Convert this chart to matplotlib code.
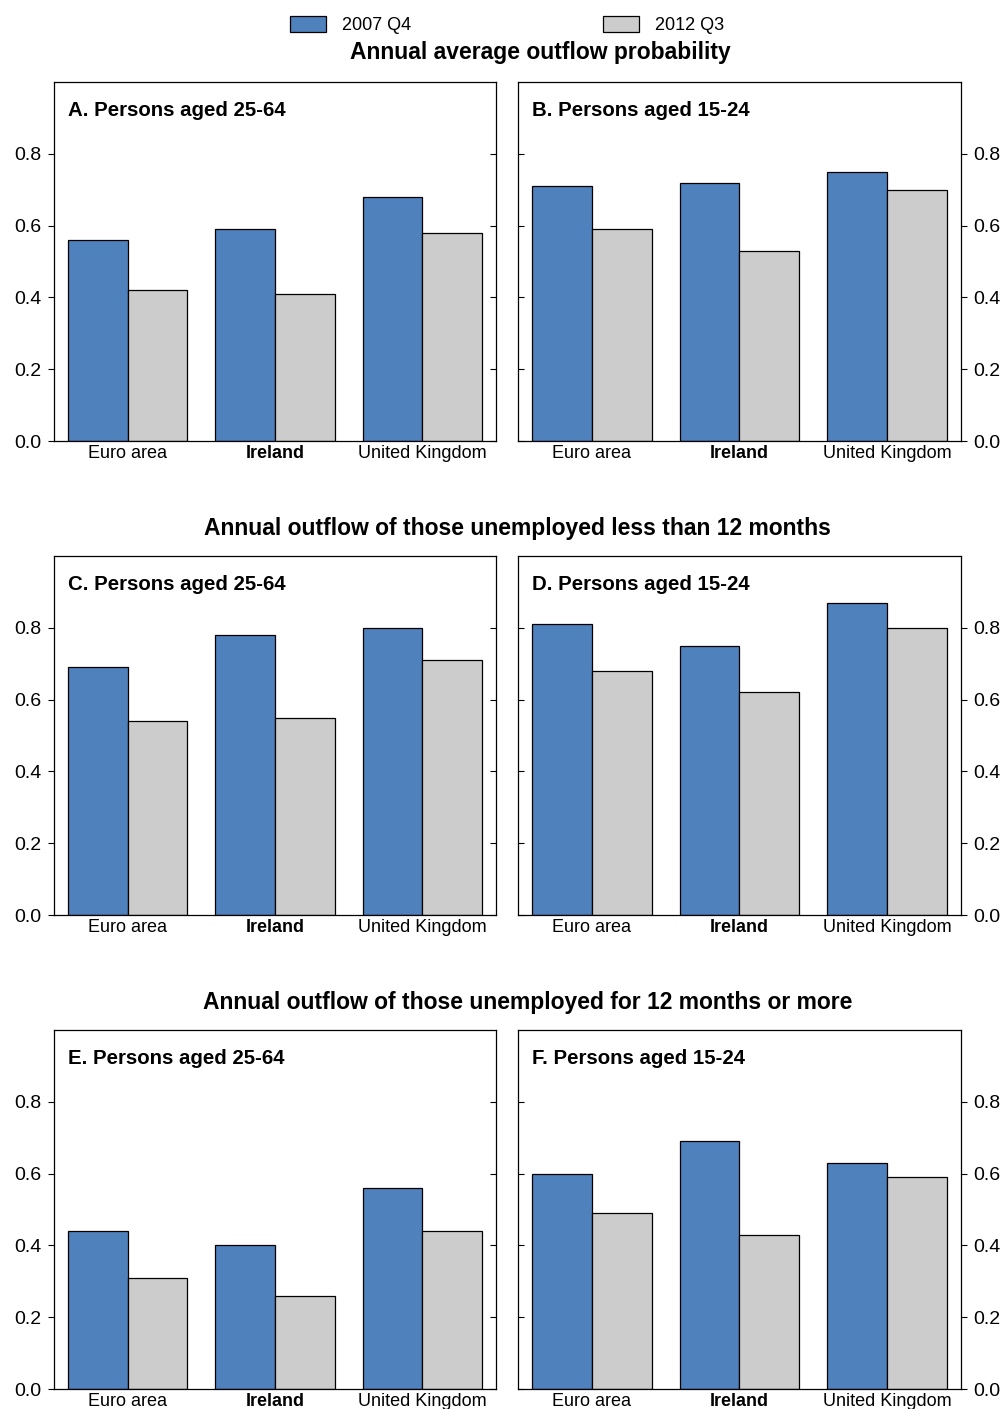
import numpy as np
import matplotlib
matplotlib.use("Agg")
import matplotlib.pyplot as plt
from matplotlib.patches import Patch

plt.rcParams["font.family"] = ["Liberation Sans", "DejaVu Sans"]

paises = ["Euro area", "Ireland", "United Kingdom"]
series = ["2007 Q4", "2012 Q3"]

titulos_linha = [
    "Annual average outflow probability",
    "Annual outflow of those unemployed less than 12 months",
    "Annual outflow of those unemployed for 12 months or more",
]
titulos_painel = [
    "A. Persons aged 25-64", "B. Persons aged 15-24",
    "C. Persons aged 25-64", "D. Persons aged 15-24",
    "E. Persons aged 25-64", "F. Persons aged 15-24",
]

# valores 2007 Q4 / 2012 Q3 por painel
v2007 = [
    [0.56, 0.59, 0.68],
    [0.71, 0.72, 0.75],
    [0.69, 0.78, 0.80],
    [0.81, 0.75, 0.87],
    [0.44, 0.40, 0.56],
    [0.60, 0.69, 0.63],
]
v2012 = [
    [0.42, 0.41, 0.58],
    [0.59, 0.53, 0.70],
    [0.54, 0.55, 0.71],
    [0.68, 0.62, 0.80],
    [0.31, 0.26, 0.44],
    [0.49, 0.43, 0.59],
]
yticks = [0.0, 0.2, 0.4, 0.6, 0.8]

AZUL = "#4F81BD"
CINZA = "#CCCCCC"

W, H = 1004, 1409
fig = plt.figure(figsize=(W / 100, H / 100), dpi=100)

col_x = [(54, 442), (518, 443)]
row_y = [(82, 441), (556, 915), (1030, 1389)]
centro_titulo = [540, 517, 528]
y_titulo = [53, 528, 1002]

x = np.arange(len(paises))
larg = 0.405

for i in range(6):
    r, c = divmod(i, 2)
    x0, w = col_x[c]
    top, bot = row_y[r]
    ax = fig.add_axes([x0 / W, 1 - bot / H, w / W, (bot - top) / H])
    ax.bar(x - larg / 2, v2007[i], larg, color=AZUL, edgecolor="black", linewidth=0.9)
    ax.bar(x + larg / 2, v2012[i], larg, color=CINZA, edgecolor="black", linewidth=0.9)
    ax.set_xlim(-0.5, 2.5)
    ax.set_ylim(0, 1.0)
    ax.set_yticks(yticks)
    ax.set_yticklabels([f"{v:.1f}" for v in yticks])
    ax.set_xticks(x)
    ax.set_xticklabels(paises)
    ax.get_xticklabels()[1].set_fontweight("bold")
    ax.tick_params(axis="x", length=0, pad=3, labelsize=13)
    for s in ax.spines.values():
        s.set_color("black")
        s.set_linewidth(0.9)

    # tiques internos do lado sem rótulo
    ax2 = ax.twinx()
    ax2.set_ylim(0, 1.0)
    ax2.set_yticks(yticks)
    ax2.set_yticklabels([])
    if c == 0:
        ax.tick_params(axis="y", direction="out", length=4, width=0.8, pad=5, labelsize=14)
        ax2.tick_params(axis="y", direction="in", length=4, width=0.8)
    else:
        ax.yaxis.tick_right()
        ax.tick_params(axis="y", direction="out", length=4, width=0.8, pad=5, labelsize=14)
        ax2.yaxis.tick_left()
        ax2.tick_params(axis="y", direction="in", length=4, width=0.8)
    for s in ax2.spines.values():
        s.set_visible(False)

    ax.text(0.032, 0.922, titulos_painel[i], transform=ax.transAxes,
            fontsize=14.7, fontweight="bold", va="center", ha="left")

for r in range(3):
    fig.text(centro_titulo[r] / W, 1 - y_titulo[r] / H, titulos_linha[r],
             fontsize=16.5, fontweight="bold", ha="center", va="center")

# legenda
handles = [Patch(facecolor=AZUL, edgecolor="black", linewidth=0.9),
           Patch(facecolor=CINZA, edgecolor="black", linewidth=0.9)]
leg = fig.legend(handles, series, loc="center", bbox_to_anchor=(507 / W, 1 - 25 / H),
                 ncol=2, frameon=False, fontsize=13, handlelength=2.0,
                 handleheight=1.0, handletextpad=0.9, columnspacing=10.6)

fig.savefig("out.png", dpi=100)
plt.close(fig)
